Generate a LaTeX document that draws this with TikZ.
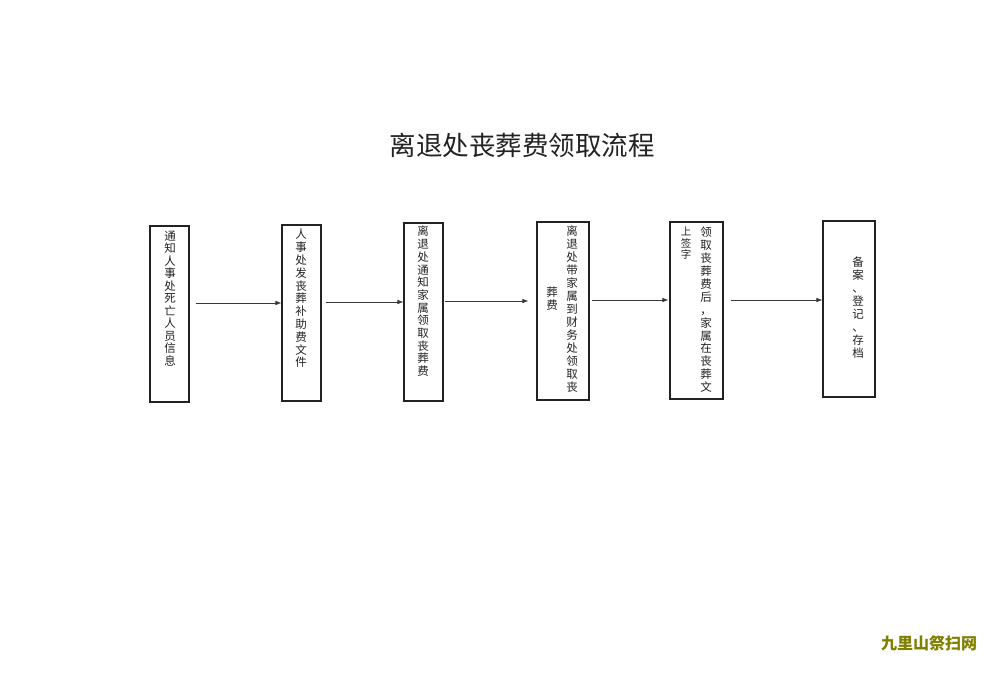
\documentclass[tikz,border=0pt]{standalone}
\usepackage{fontspec}
\newfontfamily\cjk{Noto Sans CJK SC}
\usetikzlibrary{arrows.meta}
\definecolor{wm}{HTML}{7F7F00}
\definecolor{ink}{HTML}{222222}
\begin{document}
\begin{tikzpicture}[x=1pt,y=-1pt,
  box/.style={draw=ink, line width=1.1pt, inner sep=0pt, minimum width=#1},
  col/.style={anchor=north, inner sep=0pt, align=center, text=ink, font=\cjk\fontsize{11.5}{#1}\selectfont},
  arr/.style={draw=ink!90, line width=0.6pt, -{Latex[length=6pt,width=4.5pt]}}]
\useasboundingbox (0,0) rectangle (1000,672);
\fill[white] (0,0) rectangle (1000,672);
% title
\node[font=\cjk\fontsize{26.5}{30}\selectfont, text=ink] (title) at (522,145) {离退处丧葬费领取流程};
% boxes
\node[box=39pt, minimum height=176pt] (b1) at (169.5,314) {};
\node[box=39pt, minimum height=176pt] (b2) at (301.5,313) {};
\node[box=39pt, minimum height=178pt] (b3) at (423.5,312) {};
\node[box=52pt, minimum height=178pt] (b4) at (563,311) {};
\node[box=53pt, minimum height=177pt] (b5) at (696.5,310.5) {};
\node[box=52pt, minimum height=176pt] (b6) at (849,309) {};
% texts
\node[col=12.5] (t1) at (170,231) {通\\知\\人\\事\\处\\死\\亡\\人\\员\\信\\息};
\node[col=12.8] (t2) at (301,229) {人\\事\\处\\发\\丧\\葬\\补\\助\\费\\文\\件};
\node[col=12.7] (t3) at (423,226) {离\\退\\处\\通\\知\\家\\属\\领\\取\\丧\\葬\\费};
\node[col=13] (t4r) at (572,226) {离\\退\\处\\带\\家\\属\\到\\财\\务\\处\\领\\取\\丧};
\node[col=13] (t4l) at (552,287) {葬\\费};
\node[col=12.9] (t5r) at (706,227) {领\\取\\丧\\葬\\费\\后\\，\\家\\属\\在\\丧\\葬\\文};
\node[anchor=north, inner sep=0pt, align=center, text=ink, font=\cjk\fontsize{10.5}{11.5}\selectfont] (t5l) at (686,227) {上\\签\\字};
\node[col=13] (t6) at (858,257) {备\\案\\、\\登\\记\\、\\存\\档};
% arrows
\draw[arr, shorten <=6pt] (b1.east |- 0,303) -- (b2.west |- 0,303);
\draw[arr, shorten <=4pt] (b2.east |- 0,302) -- (b3.west |- 0,302);
\draw[arr, shorten <=1pt, shorten >=8pt] (b3.east |- 0,301) -- (b4.west |- 0,301);
\draw[arr, shorten <=2pt, shorten >=1pt] (b4.east |- 0,300) -- (b5.west |- 0,300);
\draw[arr, shorten <=7pt] (b5.east |- 0,300) -- (b6.west |- 0,300);
% watermark
\node[font=\cjk\bfseries\fontsize{16}{18}\selectfont, text=wm] (wmk) at (929,643) {九里山祭扫网};
\end{tikzpicture}
\end{document}
